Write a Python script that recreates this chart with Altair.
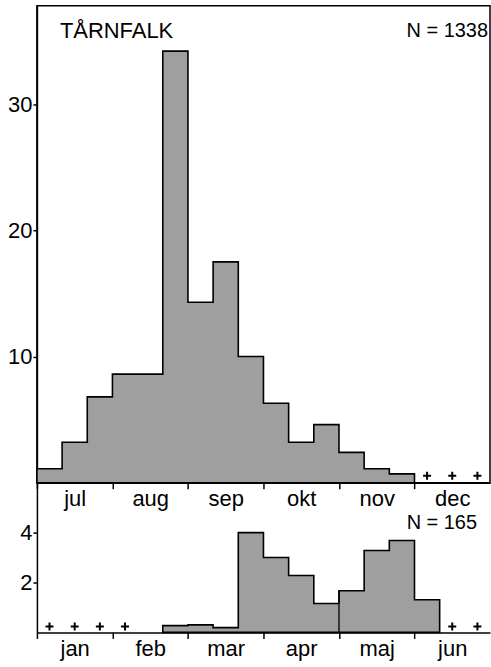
import json
import altair as alt
import pandas as pd

# ---------------- data ----------------
species = "TÅRNFALK"
autumn_n = "N = 1338"
spring_n = "N = 165"

months_autumn = ["jul", "aug", "sep", "okt", "nov", "dec"]
months_spring = ["jan", "feb", "mar", "apr", "maj", "jun"]

# 10-day periods (3 per month); autumn bars start at period 0
autumn_start = 0
autumn_values = [1.1, 3.2, 6.8, 8.6, 8.6, 34.2, 14.3, 17.5, 10.0, 6.3,
                 3.2, 4.6, 2.4, 1.1, 0.7]
autumn_plus = [15, 16, 17]

spring_start = 5
spring_values = [0.27, 0.3, 0.19, 4.0, 3.0, 2.28, 1.16, 1.67, 3.28, 3.68, 1.31]
spring_plus = [0, 1, 2, 3, 16, 17]
spring_divider = [12]

autumn_ticks = [10, 20, 30]
spring_ticks = [2, 4]

# ---------------- style ----------------
FONT = "Liberation Sans"
GRAY = "#9f9f9f"
W = 454
H_TOP = 478
H_BOT = 150
PLUS = "M-1,0L1,0M0,-1L0,1"


def step_df(start, values):
    xs = list(range(start, start + len(values) + 1))
    ys = list(values) + [values[-1]]
    return pd.DataFrame({"x": xs, "v": ys})


def x_axis(months):
    expr = f"{json.dumps(months)}[round(datum.value/3)]"
    return alt.Axis(values=list(range(0, 18, 3)), labelExpr=expr,
                    labelOffset=W / 12, labelFlush=False, labelOverlap=False,
                    tickSize=6, tickWidth=1.5,
                    tickColor="black", domainColor="black", domainWidth=1.5,
                    labelFontSize=22, labelColor="black", labelPadding=0,
                    grid=False, title=None)


def y_axis(vals):
    return alt.Axis(values=vals, tickSize=4, tickWidth=1.5, tickColor="black",
                    domainColor="black", domainWidth=1.5, labelFontSize=22,
                    labelColor="black", labelPadding=1, grid=False, title=None)


xscale = alt.Scale(domain=[0, 18], nice=False, zero=False)

# ---------------- top panel ----------------
top_area = alt.Chart(step_df(autumn_start, autumn_values)).mark_area(
    interpolate="step-after", fill=GRAY, stroke="black", strokeWidth=1.6
).encode(
    x=alt.X("x:Q", scale=xscale, axis=x_axis(months_autumn)),
    y=alt.Y("v:Q", scale=alt.Scale(domain=[0, 37.8], nice=False), axis=y_axis(autumn_ticks)),
)

top_plus = alt.Chart(pd.DataFrame({"i": autumn_plus})).transform_calculate(
    c="datum.i + 0.5"
).mark_point(shape=PLUS, size=64, stroke="black", strokeWidth=2, filled=False, opacity=1).encode(
    x=alt.X("c:Q", scale=xscale), y=alt.value(471)
)

top_title = alt.Chart(pd.DataFrame({"t": [species]})).mark_text(
    align="left", baseline="middle", fontSize=22, color="black"
).encode(text="t:N", x=alt.value(23), y=alt.value(25))

top_n = alt.Chart(pd.DataFrame({"t": [autumn_n]})).mark_text(
    align="right", baseline="middle", fontSize=20, color="black"
).encode(text="t:N", x=alt.value(452), y=alt.value(25))

top = alt.layer(top_area, top_plus, top_title, top_n).properties(
    width=W, height=H_TOP, view=alt.ViewBackground(stroke="black", strokeWidth=1.5)
)

# ---------------- bottom panel ----------------
bot_area = alt.Chart(step_df(spring_start, spring_values)).mark_area(
    interpolate="step-after", fill=GRAY, stroke="black", strokeWidth=1.6
).encode(
    x=alt.X("x:Q", scale=xscale, axis=x_axis(months_spring)),
    y=alt.Y("v:Q", scale=alt.Scale(domain=[0, 6], nice=False), axis=y_axis(spring_ticks)),
)

div_df = pd.DataFrame({"x": spring_divider,
                       "z": [0] * len(spring_divider),
                       "v": [spring_values[d - spring_start] for d in spring_divider]})
bot_div = alt.Chart(div_df).mark_rule(stroke="black", strokeWidth=1.3).encode(
    x=alt.X("x:Q", scale=xscale), y="z:Q", y2="v:Q"
)

bot_plus = alt.Chart(pd.DataFrame({"i": spring_plus})).transform_calculate(
    c="datum.i + 0.5"
).mark_point(shape=PLUS, size=64, stroke="black", strokeWidth=2, filled=False, opacity=1).encode(
    x=alt.X("c:Q", scale=xscale), y=alt.value(144)
)

bot_n = alt.Chart(pd.DataFrame({"t": [spring_n]})).mark_text(
    align="right", baseline="middle", fontSize=20, color="black"
).encode(text="t:N", x=alt.value(441), y=alt.value(40))

bottom = alt.layer(bot_area, bot_div, bot_plus, bot_n).properties(
    width=W, height=H_BOT, view=alt.ViewBackground(stroke="transparent")
)

chart = alt.vconcat(top, bottom, spacing=0, bounds="flush").properties(
    padding={"left": 6, "top": 4, "right": 0, "bottom": 4},
    background="white",
).configure(font=FONT)

chart.save("out.html", embed_options={"renderer": "svg", "actions": False})
